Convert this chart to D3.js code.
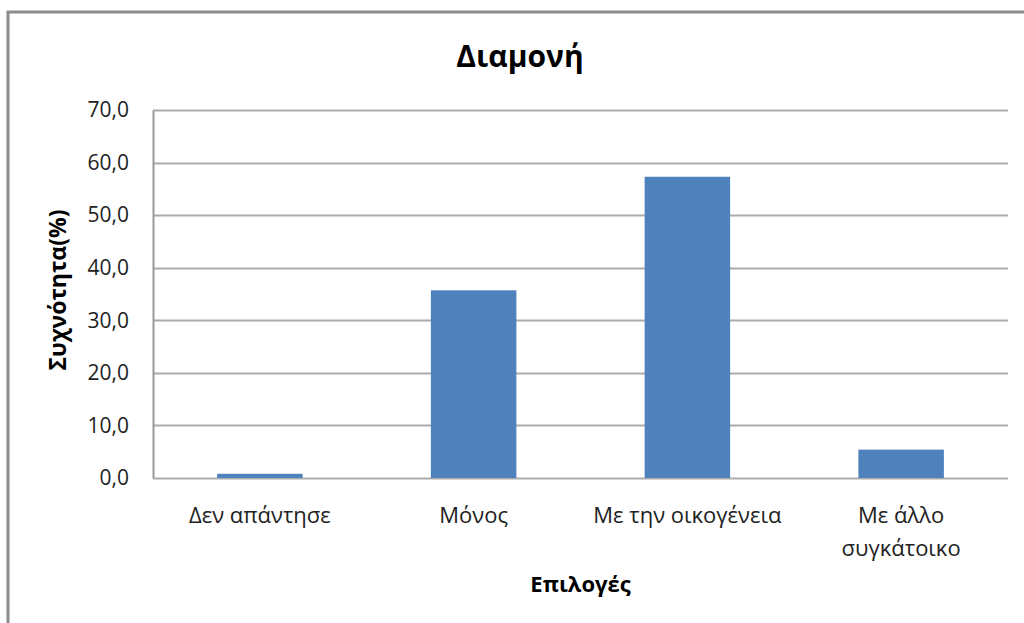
<!DOCTYPE html>
<html>
<head>
<meta charset="utf-8">
<script src="https://cdn.jsdelivr.net/npm/d3@7"></script>
<style>
  html, body { margin: 0; padding: 0; background: #fff; }
  svg { display: block; font-family: "Open Sans", "DejaVu Sans", sans-serif; }
  svg text { font-family: "Open Sans", "DejaVu Sans", sans-serif; }
</style>
</head>
<body>
<svg id="chart" width="1024" height="623"></svg>
<script>
// chart data
const categories = [["Δεν απάντησε"], ["Μόνος"], ["Με την οικογένεια"], ["Με άλλο", "συγκάτοικο"]];
const values = [0.8, 35.7, 57.3, 5.4];
const yTicks = [0, 10, 20, 30, 40, 50, 60, 70];
const title = "Διαμονή";
const yTitle = "Συχνότητα(%)";
const xTitle = "Επιλογές";

const svg = d3.select('#chart');
const margin = { top: 110, left: 153, right: 16, bottom: 145 };
const width = 1024, height = 623;

// outer frame (runs off the right and bottom edges)
svg.append('rect')
  .attr('x', 8).attr('y', 12)
  .attr('width', 1040).attr('height', 640)
  .attr('fill', 'none')
  .attr('stroke', '#8c8c8c')
  .attr('stroke-width', 3);

const x = d3.scaleBand()
  .domain(d3.range(categories.length))
  .range([margin.left, width - margin.right])
  .paddingInner(0.6)
  .paddingOuter(0.3);

const y = d3.scaleLinear()
  .domain([0, 70])
  .range([height - margin.bottom, margin.top]);

// gridlines
svg.append('g')
  .selectAll('line')
  .data(yTicks)
  .enter()
  .append('line')
  .attr('x1', margin.left)
  .attr('x2', width - margin.right)
  .attr('y1', (d) => Math.round(y(d)) + 0.5)
  .attr('y2', (d) => Math.round(y(d)) + 0.5)
  .attr('stroke', '#ababab')
  .attr('stroke-width', 2);

// y axis
const yAxis = d3.axisLeft(y)
  .tickValues(yTicks)
  .tickSize(0)
  .tickPadding(24)
  .tickFormat((d) => d3.format('.1f')(d).replace('.', ','));

const gy = svg.append('g')
  .attr('transform', `translate(${margin.left},0)`)
  .call(yAxis);
gy.attr('font-family', null);
gy.select('.domain').attr('stroke', '#9a9a9a').attr('stroke-width', 2);
gy.selectAll('text')
  .attr('font-size', 21)
  .attr('fill', '#222');

// bars
svg.append('g')
  .selectAll('rect')
  .data(values)
  .enter()
  .append('rect')
  .attr('x', (d, i) => x(i))
  .attr('y', (d) => y(d))
  .attr('width', x.bandwidth())
  .attr('height', (d) => y(0) - y(d))
  .attr('fill', '#4f81bd');

// category labels
const labels = svg.append('g')
  .selectAll('text')
  .data(categories)
  .enter()
  .append('text')
  .attr('x', (d, i) => x(i) + x.bandwidth() / 2)
  .attr('y', y(0) + 45)
  .attr('text-anchor', 'middle')
  .attr('font-size', 22)
  .attr('fill', '#222');
labels.selectAll('tspan')
  .data((d) => d)
  .enter()
  .append('tspan')
  .attr('x', function () { return d3.select(this.parentNode).attr('x'); })
  .attr('dy', (d, i) => (i === 0 ? 0 : 33))
  .text((d) => d);

// titles
svg.append('text')
  .attr('x', 520).attr('y', 67)
  .attr('text-anchor', 'middle')
  .attr('font-size', 30)
  .attr('font-weight', 'bold')
  .attr('fill', '#000')
  .text(title);

svg.append('text')
  .attr('transform', `translate(66,${(y(0) + y(70)) / 2 - 4}) rotate(-90)`)
  .attr('text-anchor', 'middle')
  .attr('font-size', 23)
  .attr('font-weight', 'bold')
  .attr('fill', '#000')
  .text(yTitle);

svg.append('text')
  .attr('x', (margin.left + width - margin.right) / 2)
  .attr('y', 592)
  .attr('text-anchor', 'middle')
  .attr('font-size', 22)
  .attr('font-weight', 'bold')
  .attr('fill', '#000')
  .text(xTitle);
</script>
</body>
</html>
